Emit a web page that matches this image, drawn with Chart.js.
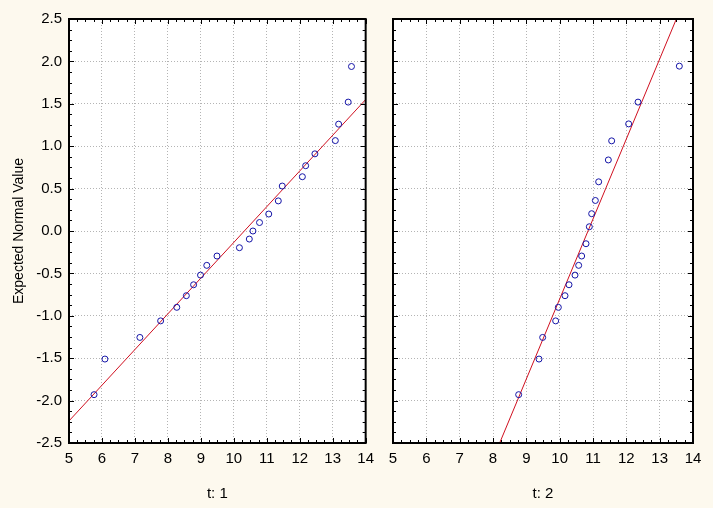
<!DOCTYPE html>
<html>
<head>
<meta charset="utf-8">
<script src="https://cdn.jsdelivr.net/npm/chart.js@4/dist/chart.umd.min.js"></script>
<style>
  html, body { margin: 0; padding: 0; background: #fdf9ee; }
  #wrap { position: relative; width: 713px; height: 508px; overflow: hidden; }
  .panel { position: absolute; top: 0; }
</style>
</head>
<body>
<div id="wrap">
  <div class="panel" style="left:0;width:381px;height:508px"><canvas id="left"></canvas></div>
  <div class="panel" style="left:381px;width:332px;height:508px"><canvas id="right"></canvas></div>
</div>
<script>
// t: 1 -- observed values and expected normal values
var obs1 = [5.76, 6.09, 7.15, 7.78, 8.27, 8.56, 8.78, 8.99, 9.18, 9.49, 10.17, 10.47,
            10.58, 10.78, 11.06, 11.35, 11.47, 12.08, 12.18, 12.46, 13.08, 13.18, 13.47, 13.57];
var exp1 = [-1.93, -1.51, -1.255, -1.06, -0.90, -0.763, -0.634, -0.52, -0.405, -0.295, -0.197, -0.095,
            0.0, 0.10, 0.20, 0.355, 0.53, 0.64, 0.77, 0.91, 1.066, 1.26, 1.52, 1.94];
// fitted line end points for t: 1
var fitX1 = [5, 14];
var fitY1 = [-2.24, 1.55];

// t: 2
var obs2 = [8.77, 9.38, 9.49, 9.88, 9.96, 10.16, 10.28, 10.46, 10.57, 10.66, 10.79, 10.89,
            10.96, 11.07, 11.17, 11.46, 11.56, 12.07, 12.35, 13.59];
var exp2 = [-1.93, -1.51, -1.255, -1.06, -0.90, -0.763, -0.634, -0.52, -0.405, -0.295, -0.15, 0.05,
            0.204, 0.36, 0.58, 0.838, 1.063, 1.263, 1.52, 1.944];
var fitX2 = [8.2, 13.5];
var fitY2 = [-2.5, 2.5];

var xTicks = [5, 6, 7, 8, 9, 10, 11, 12, 13, 14];
var yTicks = [-2.5, -2.0, -1.5, -1.0, -0.5, 0.0, 0.5, 1.0, 1.5, 2.0, 2.5];

function pairs(xs, ys) {
    return xs.map(function(x, i) { return { x: x, y: ys[i] }; });
}

// inward major/minor ticks and the black frame round the plot
var framePlugin = {
    id: 'frame',
    afterDraw: function(chart) {
        var ctx = chart.ctx, a = chart.chartArea;
        var xs = chart.scales.x, ys = chart.scales.y;
        ctx.save();
        ctx.strokeStyle = '#000';
        ctx.lineWidth = 1;
        ctx.beginPath();
        for (var v = 5; v <= 14.001; v += 0.25) {
            var px = Math.round(xs.getPixelForValue(v)) + 0.5;
            var len = Math.abs(v - Math.round(v)) < 0.01 ? 5 : 3;
            ctx.moveTo(px, a.bottom); ctx.lineTo(px, a.bottom - len);
            ctx.moveTo(px, a.top); ctx.lineTo(px, a.top + len);
        }
        for (var w = -2.5; w <= 2.501; w += 0.125) {
            var py = Math.round(ys.getPixelForValue(w)) + 0.5;
            var l2 = Math.abs(w * 2 - Math.round(w * 2)) < 0.01 ? 5 : 3;
            ctx.moveTo(a.left, py); ctx.lineTo(a.left + l2, py);
            ctx.moveTo(a.right, py); ctx.lineTo(a.right - l2, py);
        }
        ctx.stroke();
        ctx.lineWidth = 2;
        ctx.strokeRect(a.left, a.top, a.right - a.left, a.bottom - a.top);
        ctx.restore();
    }
};

var bgPlugin = {
    id: 'plotbg',
    beforeDraw: function(chart) {
        var a = chart.chartArea, ctx = chart.ctx;
        ctx.save();
        ctx.fillStyle = '#ffffff';
        ctx.fillRect(a.left, a.top, a.right - a.left, a.bottom - a.top);
        ctx.restore();
    }
};

function makeChart(id, obs, exp, fx, fy, title, showY, yWidth, padRight) {
    var ctx = document.getElementById(id).getContext('2d');
    return new Chart(ctx, {
        type: 'scatter',
        data: {
            datasets: [{
                label: 'fit',
                data: pairs(fx, fy),
                showLine: true,
                borderColor: '#d01020',
                borderWidth: 1,
                pointRadius: 0,
                order: 2
            }, {
                label: 'values',
                data: pairs(obs, exp),
                pointStyle: 'circle',
                pointRadius: 3,
                pointBorderWidth: 1,
                pointBorderColor: '#1515a8',
                pointBackgroundColor: 'rgba(0,0,0,0)',
                order: 1
            }]
        },
        options: {
            responsive: true,
            maintainAspectRatio: false,
            animation: false,
            layout: { padding: { left: 0, right: padRight, top: 19, bottom: 0 } },
            plugins: { legend: { display: false }, tooltip: { enabled: false } },
            scales: {
                x: {
                    type: 'linear',
                    min: 5, max: 14,
                    afterBuildTicks: function(s) { s.ticks = xTicks.map(function(v) { return { value: v }; }); },
                    afterFit: function(s) { s.height = 65; },
                    ticks: {
                        padding: 7,
                        color: '#000',
                        font: { family: 'Liberation Sans, Arial, sans-serif', size: 15 }
                    },
                    grid: { color: '#b4b4b4', drawTicks: false, lineWidth: 1 },
                    border: { display: false, dash: [1, 2] },
                    title: {
                        display: true,
                        text: title,
                        color: '#000',
                        padding: { top: 0, bottom: 5 },
                        font: { family: 'Liberation Sans, Arial, sans-serif', size: 15 }
                    }
                },
                y: {
                    type: 'linear',
                    min: -2.5, max: 2.5,
                    afterBuildTicks: function(s) { s.ticks = yTicks.map(function(v) { return { value: v }; }); },
                    afterFit: function(s) { s.width = yWidth; },
                    ticks: {
                        display: showY,
                        padding: 7,
                        color: '#000',
                        font: { family: 'Liberation Sans, Arial, sans-serif', size: 15 },
                        callback: function(v) { return Number(v).toFixed(1); }
                    },
                    grid: { color: '#b4b4b4', drawTicks: false, lineWidth: 1 },
                    border: { display: false, dash: [1, 2] },
                    title: {
                        display: showY,
                        text: 'Expected Normal Value',
                        color: '#000',
                        padding: { top: 11, bottom: 0 },
                        font: { family: 'Liberation Sans, Arial, sans-serif', size: 14 }
                    }
                }
            }
        },
        plugins: [bgPlugin, framePlugin]
    });
}

makeChart('left', obs1, exp1, fitX1, fitY1, 't: 1', true, 69, 12);
makeChart('right', obs2, exp2, fitX2, fitY2, 't: 2', false, 12, 20);
</script>
</body>
</html>
